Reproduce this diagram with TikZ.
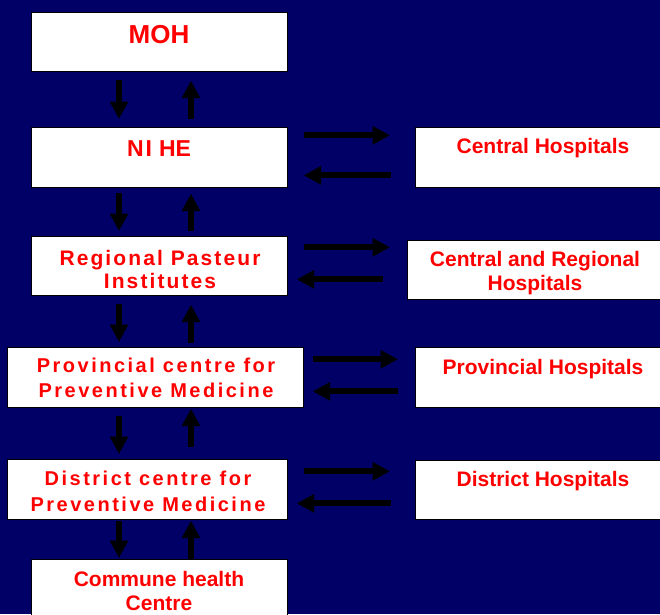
\documentclass[tikz,border=0pt]{standalone}
\usepackage{fontspec}
\setmainfont{Liberation Sans}
\usetikzlibrary{arrows.meta}
\definecolor{navy}{RGB}{0,0,102}

\begin{document}
\begin{tikzpicture}[x=1pt,y=-1pt,
  box/.style={draw=black, line width=0.7pt, fill=white, anchor=north west, inner sep=0pt},
  lbl/.style={text=red, align=center, inner sep=0pt, anchor=base},
  arr/.style={draw=black, line width=6pt, -{Triangle[width=17.5pt,length=17.5pt]}},
  sz/.style n args={3}{font=\fontsize{#1pt}{#2pt}\selectfont\bfseries\addfontfeatures{LetterSpace=#3}},
]
% background and page size
\fill[navy] (0,0) rectangle (660,614);
\useasboundingbox (0,0) rectangle (660,614);

% left column: preventive medicine system
\node[box, minimum width=256pt, minimum height=59pt] (moh) at (31,12) {};
\node[box, minimum width=256pt, minimum height=60pt] (nihe) at (31,127) {};
\node[box, minimum width=256pt, minimum height=59pt] (regional) at (31,236) {};
\node[box, minimum width=296pt, minimum height=60pt] (prov) at (7,347) {};
\node[box, minimum width=280pt, minimum height=60pt] (dist) at (7,459) {};
\node[box, minimum width=256pt, minimum height=62pt] (commune) at (31,559) {};

% right column: hospitals
\node[box, minimum width=256pt, minimum height=60pt] (central) at (415,127) {};
\node[box, minimum width=256pt, minimum height=59pt] (centreg) at (407,240) {};
\node[box, minimum width=256pt, minimum height=60pt] (provh) at (415,347) {};
\node[box, minimum width=256pt, minimum height=59pt] (disth) at (415,460) {};

% labels (base anchor = baseline of the last line)
\node[lbl, sz={26}{30}{0}] (mohT) at (159,43) {MOH};
\node[lbl, sz={23}{27}{0}] (niheT) at (159,156) {N\kern2pt I\kern7pt HE};
\node[lbl, sz={21}{23}{10}] (regionalT) at (160,288) {Regional Pasteur\\Institutes};
\node[lbl, sz={20}{25}{12.5}] (provT) at (156,397.7) {Provincial centre for\\Preventive Medicine};
\node[lbl, sz={20}{26.7}{12.5}] (distT) at (148,511.7) {District centre for\\Preventive Medicine};
\node[lbl, sz={21}{24.7}{0}] (communeT) at (159,610.7) {Commune health\\Centre};
\node[lbl, sz={21}{25}{0}] (centralT) at (543,153) {Central Hospitals};
\node[lbl, sz={21}{24}{0}] (centregT) at (535,290) {Central and Regional\\Hospitals};
\node[lbl, sz={21}{25}{0}] (provhT) at (543,374) {Provincial Hospitals};
\node[lbl, sz={21}{25}{0}] (disthT) at (543,486) {District Hospitals};

% vertical arrow lanes
\coordinate (dnx) at (119,0);
\coordinate (upx) at (191,0);

\draw[arr, shorten <=8pt, shorten >=8pt] (moh.south -| dnx) -- (nihe.north -| dnx);
\draw[arr, shorten <=8pt, shorten >=9pt] (nihe.north -| upx) -- (moh.south -| upx);
\draw[arr, shorten <=5pt, shorten >=5pt] (nihe.south -| dnx) -- (regional.north -| dnx);
\draw[arr, shorten <=5pt, shorten >=6pt] (regional.north -| upx) -- (nihe.south -| upx);
\draw[arr, shorten <=8pt, shorten >=5pt] (regional.south -| dnx) -- (prov.north -| dnx);
\draw[arr, shorten <=4pt, shorten >=9pt] (prov.north -| upx) -- (regional.south -| upx);
\draw[arr, shorten <=8pt, shorten >=5pt] (prov.south -| dnx) -- (dist.north -| dnx);
\draw[arr, shorten <=12pt, shorten >=1pt] (dist.north -| upx) -- (prov.south -| upx);
\draw[arr, shorten <=1pt, shorten >=1pt] (dist.south -| dnx) -- (commune.north -| dnx);
\draw[arr, shorten <=0pt, shorten >=1pt] (commune.north -| upx) -- (dist.south -| upx);

% horizontal exchanges with hospitals
\draw[arr, shorten <=16pt, shorten >=25pt] ([yshift=22pt]nihe.east) -- ([yshift=22pt]central.west);
\draw[arr, shorten <=24pt, shorten >=16pt] ([yshift=-18pt]central.west) -- ([yshift=-18pt]nihe.east);
\draw[arr, shorten <=16pt, shorten >=17pt] ([yshift=18.5pt]regional.east) -- ([yshift=22.5pt]centreg.west);
\draw[arr, shorten <=24pt, shorten >=9pt] ([yshift=-9.5pt]centreg.west) -- ([yshift=-13.5pt]regional.east);
\draw[arr, shorten <=9pt, shorten >=17pt] ([yshift=18pt]prov.east) -- ([yshift=18pt]provh.west);
\draw[arr, shorten <=17pt, shorten >=9pt] ([yshift=-14pt]provh.west) -- ([yshift=-14pt]prov.east);
\draw[arr, shorten <=16pt, shorten >=25pt] ([yshift=18pt]dist.east) -- ([yshift=18.5pt]disth.west);
\draw[arr, shorten <=24pt, shorten >=9pt] ([yshift=-13.5pt]disth.west) -- ([yshift=-14pt]dist.east);
\end{tikzpicture}
\end{document}
